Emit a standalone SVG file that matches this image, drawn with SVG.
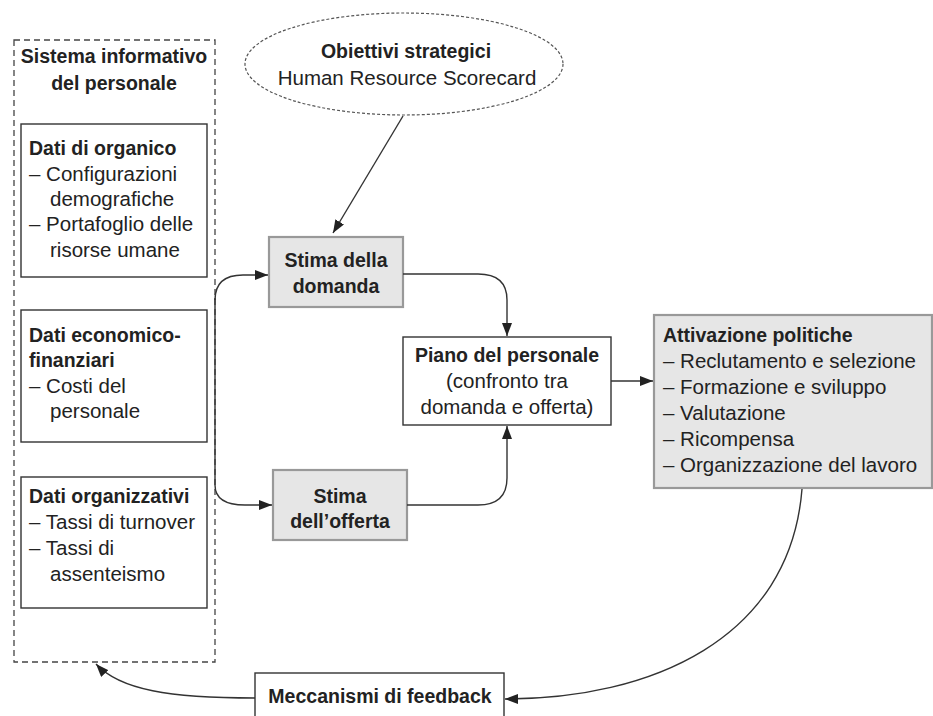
<svg xmlns="http://www.w3.org/2000/svg" width="933" height="716" viewBox="0 0 933 716">
<defs>
<marker id="arr" markerUnits="userSpaceOnUse" markerWidth="13" markerHeight="10" viewBox="0 0 13 10" refX="13" refY="5" orient="auto">
<path d="M0,0 L13,5 L0,10 Z" fill="#222"/>
</marker>
<style>
text{font-family:"Liberation Sans",Arial,sans-serif;fill:#222;}
.b{font-weight:bold;font-size:19.5px;}
.r{font-size:20.5px;}
.m{text-anchor:middle;}
.box{fill:#fff;stroke:#333;stroke-width:1.4;}
.gbox{fill:#e6e6e6;stroke:#999;stroke-width:2.2;}
.con{fill:none;stroke:#333;stroke-width:1.4;}
</style>
</defs>
<rect width="933" height="716" fill="#fff"/>

<g id="sistema">
<rect x="14" y="40" width="201" height="622" fill="none" stroke="#444" stroke-width="1.3" stroke-dasharray="6,4"/>
<text class="b m" x="114" y="63">Sistema informativo</text>
<text class="b m" x="114" y="90">del personale</text>
</g>

<g id="organico">
<rect class="box" x="21" y="124" width="186" height="153"/>
<text class="b" x="29" y="155">Dati di organico</text>
<text class="r" x="29" y="181">– Configurazioni</text>
<text class="r" x="50" y="206">demografiche</text>
<text class="r" x="29" y="231">– Portafoglio delle</text>
<text class="r" x="50" y="257">risorse umane</text>
</g>

<g id="economici">
<rect class="box" x="21" y="310" width="186" height="132"/>
<text class="b" x="29" y="342">Dati economico-</text>
<text class="b" x="29" y="367">finanziari</text>
<text class="r" x="29" y="393">– Costi del</text>
<text class="r" x="50" y="418">personale</text>
</g>

<g id="organizzativi">
<rect class="box" x="21" y="477" width="186" height="131"/>
<text class="b" x="29" y="503">Dati organizzativi</text>
<text class="r" x="29" y="529">– Tassi di turnover</text>
<text class="r" x="29" y="555">– Tassi di</text>
<text class="r" x="50" y="581">assenteismo</text>
</g>

<g id="obiettivi">
<ellipse cx="404" cy="64" rx="159" ry="51" fill="#fff" stroke="#555" stroke-width="1.2" stroke-dasharray="3,2"/>
<text class="b m" x="406" y="58">Obiettivi strategici</text>
<text class="r m" x="407" y="85">Human Resource Scorecard</text>
</g>

<g id="domanda">
<rect class="gbox" x="269" y="237" width="134" height="70"/>
<text class="b m" x="336" y="267">Stima della</text>
<text class="b m" x="336" y="293">domanda</text>
</g>

<g id="offerta">
<rect class="gbox" x="273" y="470" width="134" height="70"/>
<text class="b m" x="340" y="503">Stima</text>
<text class="b m" x="340" y="528">dell’offerta</text>
</g>

<g id="piano">
<rect class="box" x="403" y="337" width="208" height="88"/>
<text class="b m" x="507" y="362">Piano del personale</text>
<text class="r m" x="507" y="388">(confronto tra</text>
<text class="r m" x="507" y="414">domanda e offerta)</text>
</g>

<g id="attivazione">
<rect class="gbox" x="654" y="315" width="278" height="173"/>
<text class="b" x="663" y="342">Attivazione politiche</text>
<text class="r" x="663" y="368">– Reclutamento e selezione</text>
<text class="r" x="663" y="394">– Formazione e sviluppo</text>
<text class="r" x="663" y="420">– Valutazione</text>
<text class="r" x="663" y="446">– Ricompensa</text>
<text class="r" x="663" y="472">– Organizzazione del lavoro</text>
</g>

<g id="feedback">
<rect class="box" x="255" y="673" width="249" height="50"/>
<text class="b m" x="380" y="703">Meccanismi di feedback</text>
</g>

<g id="connectors">
<path class="con" d="M403,116 L333,233" marker-end="url(#arr)"/>
<path class="con" d="M215,300 Q215,275 243,275 L268,275" marker-end="url(#arr)"/>
<path class="con" d="M215,298 L215,485 Q215,505 245,505 L272,505" marker-end="url(#arr)"/>
<path class="con" d="M403,274 L478,274 Q507,274 507,300 L507,336" marker-end="url(#arr)"/>
<path class="con" d="M407,505 L478,505 Q507,505 507,478 L507,426" marker-end="url(#arr)"/>
<path class="con" d="M611,381 L653,381" marker-end="url(#arr)"/>
<path class="con" d="M802,489 C790,640 650,699 505,699" marker-end="url(#arr)"/>
<path class="con" d="M255,698 C170,698 120,690 96,664" marker-end="url(#arr)"/>
</g>
</svg>
